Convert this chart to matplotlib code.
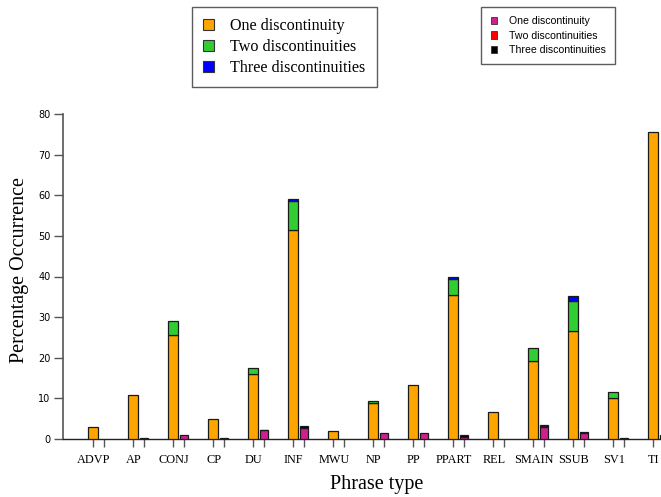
import matplotlib
matplotlib.use("Agg")
import matplotlib.pyplot as plt
import numpy as np
from matplotlib.patches import Patch

categories = ['ADVP', 'AP', 'CONJ', 'CP', 'DU', 'INF', 'MWU', 'NP', 'PP',
              'PPART', 'REL', 'SMAIN', 'SSUB', 'SV1', 'TI']

# left stacked bars
a_one = [3.0, 10.8, 25.5, 5.0, 15.9, 51.5, 1.9, 8.75, 13.2, 35.5, 6.6, 19.3, 26.5, 10.0, 75.6]
a_two = [0, 0, 3.5, 0, 1.7, 7.1, 0, 0.5, 0, 3.8, 0, 3.0, 7.4, 1.5, 0]
a_three = [0, 0, 0, 0, 0, 0.6, 0, 0, 0, 0.5, 0, 0, 1.2, 0, 0]

# right stacked bars
b_one = [0, 0.05, 1.0, 0.05, 2.1, 2.8, 0, 1.6, 1.6, 0.6, 0, 3.0, 1.4, 0.35, 0.9]
b_two = [0, 0, 0, 0, 0, 0, 0, 0, 0, 0, 0, 0.3, 0, 0, 0]
b_three = [0, 0.2, 0, 0.2, 0.2, 0.5, 0, 0, 0, 0.3, 0, 0.1, 0.25, 0, 0]

legend_labels = ['One discontinuity', 'Two discontinuities', 'Three discontinuities']
colors_a = ['#FFA500', '#32CD32', '#0000FF']
colors_b = ['#D0208F', '#FF0000', '#000000']

plt.rcParams['font.family'] = ['Liberation Serif', 'DejaVu Serif']

W, H = 661, 497
fig = plt.figure(figsize=(W / 100, H / 100), dpi=100)
ax_left = 63
ax_bottom = 497 - 439
ax_top = 114
x0_px = 93
unit = 40.0
xmin = -(x0_px - ax_left) / unit
xmax = 14.5
ax = fig.add_axes([ax_left / W, ax_bottom / H, (xmax - xmin) * unit / W, (439 - ax_top) / H])

x = np.arange(len(categories))
off = 0.275
wa = 0.25
wb = 0.2
edge = dict(edgecolor='#1a1a1a', linewidth=0.9)

bot = np.zeros(len(x))
for vals, c in zip([a_one, a_two, a_three], colors_a):
    v = np.array(vals, dtype=float)
    m = v > 0
    ax.bar(x[m], v[m], wa, bottom=bot[m], color=c, **edge, zorder=3)
    bot += v

bot = np.zeros(len(x))
for vals, c in zip([b_one, b_two, b_three], colors_b):
    v = np.array(vals, dtype=float)
    m = v > 0
    ax.bar(x[m] + off, v[m], wb, bottom=bot[m], color=c, **edge, zorder=3)
    bot += v

ax.set_xlim(xmin, xmax)
ax.set_ylim(0, 80)
ax.set_yticks(np.arange(0, 81, 10))
ax.tick_params(axis='y', length=6.5, width=1, color='#555555', pad=2.5)
for lbl in ax.get_yticklabels():
    lbl.set_fontfamily('DejaVu Sans')
    lbl.set_fontsize(7)

major = np.sort(np.concatenate([x, x + off]))
ax.set_xticks(major)
ax.set_xticklabels([''] * len(major))
ax.tick_params(axis='x', which='major', length=5.5, width=1, color='#555555', direction='out')
ax.set_xticks(x + 0.02, minor=True)
ax.set_xticklabels(categories, minor=True)
ax.tick_params(axis='x', which='minor', length=0, pad=10.5, labelsize=8.8)

for s in ['top', 'right']:
    ax.spines[s].set_visible(False)
ax.spines['left'].set_color('#555555')
ax.spines['left'].set_linewidth(1.2)
ax.spines['bottom'].set_color('#222222')
ax.spines['bottom'].set_linewidth(1.0)

fig.text(20 / W, 1 - 270 / H, 'Percentage Occurrence', rotation=90, ha='center', va='center', fontsize=14.5)
fig.text(377 / W, 1 - 485 / H, 'Phrase type', ha='center', va='center', fontsize=14.5)

h1 = [Patch(facecolor=c, edgecolor='#333333', linewidth=0.8) for c in colors_a]
leg1 = fig.legend(h1, legend_labels, loc='upper left', bbox_to_anchor=(192 / W, 1 - 7 / H),
                  borderaxespad=0, fontsize=11.6, frameon=True, fancybox=False,
                  handlelength=0.68, handleheight=0.68, handletextpad=1.0,
                  labelspacing=0.3, borderpad=0.7)
leg1.get_frame().set_edgecolor('#333333')
leg1.get_frame().set_linewidth(1.0)

h2 = [Patch(facecolor=c, edgecolor='#333333', linewidth=0.6) for c in colors_b]
leg2 = fig.legend(h2, legend_labels, loc='upper left', bbox_to_anchor=(481 / W, 1 - 7 / H),
                  borderaxespad=0, prop={'family': 'Liberation Sans', 'size': 7.6},
                  frameon=True, fancybox=False,
                  handlelength=0.66, handleheight=0.66, handletextpad=1.1,
                  labelspacing=0.4, borderpad=0.9)
leg2.get_frame().set_edgecolor('#333333')
leg2.get_frame().set_linewidth(1.0)

fig.savefig('out.png', dpi=100)
